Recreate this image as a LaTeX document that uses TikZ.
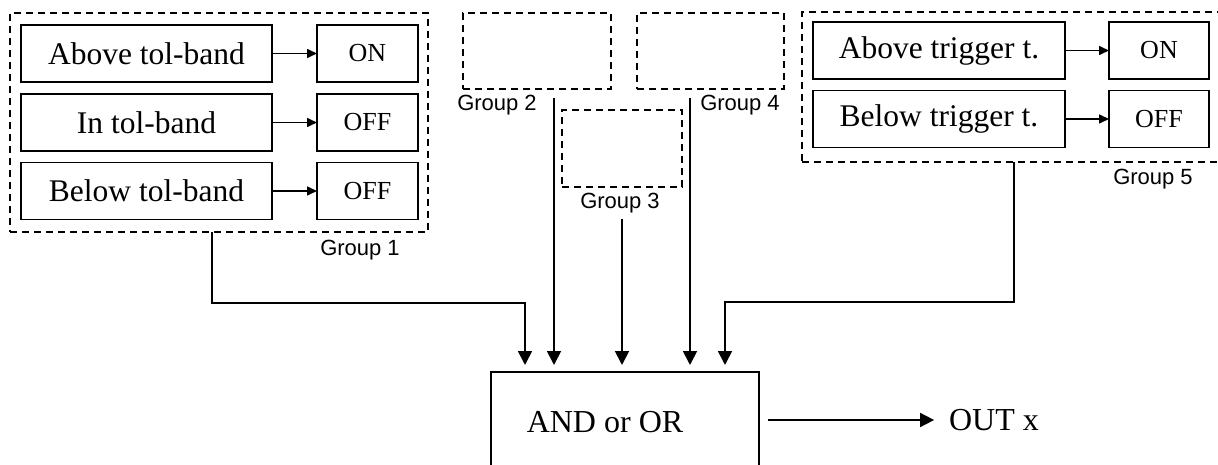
\documentclass[tikz,border=0pt]{standalone}
\usepackage{fontspec}
\setmainfont{Liberation Serif}
\newfontfamily\grpfont{Liberation Sans}
\usetikzlibrary{arrows.meta,calc}
\tikzset{
  every node/.append style={outer sep=0pt},
  cond/.style={draw, line width=1.8pt, minimum width=251pt, minimum height=57pt,
    inner sep=0pt, font=\fontsize{31.5}{31.5}\selectfont},
  state/.style={draw, line width=1.8pt, minimum width=101pt, minimum height=57pt,
    inner sep=0pt, font=\fontsize{26}{26}\selectfont},
  group/.style={draw, dash pattern=on 7pt off 5pt, line width=1.8pt, inner sep=0pt},
  grouplabel/.style={font=\grpfont\fontsize{22}{22}\selectfont, inner sep=0pt},
  bigtext/.style={font=\fontsize{32}{32}\selectfont, inner sep=0pt},
  smallarrow/.style={line width=1.6pt, -{Triangle[length=10pt,width=9pt]}},
  bigarrow/.style={line width=1.8pt, -{Triangle[length=14pt,width=14pt]}},
}
\begin{document}
\begin{tikzpicture}[x=1pt,y=-1pt]
\useasboundingbox (0,0) rectangle (1218,465);

% ---- Group 1: tolerance band ----
\node[group, minimum width=418pt, minimum height=219pt] (g1) at (219,122.5) {};
\node[cond]  (a1) at (146.5,53.5)  {Above tol-band};
\node[cond]  (a2) at (146.5,122.5) {In tol-band};
\node[cond]  (a3) at (146.5,191)   {Below tol-band};
\node[state] (s1) at (367.5,53.5)  {ON};
\node[state] (s2) at (367.5,122.5) {OFF};
\node[state] (s3) at (367.5,191)   {OFF};
\draw[smallarrow] (a1.east) -- (s1.west);
\draw[smallarrow] (a2.east) -- (s2.west);
\draw[smallarrow] (a3.east) -- (s3.west);
\node[grouplabel] (l1) at (360,250) {Group 1};

% ---- Groups 2, 3, 4 (empty) ----
\node[group, minimum width=148pt, minimum height=76pt] (g2) at (537,51) {};
\node[grouplabel] (l2) at (497,105) {Group 2};
\node[group, minimum width=120pt, minimum height=77pt] (g3) at (622,148.5) {};
\node[grouplabel] (l3) at (620,203) {Group 3};
\node[group, minimum width=147pt, minimum height=76pt] (g4) at (710.5,51) {};
\node[grouplabel] (l4) at (740,105) {Group 4};

% ---- Group 5: trigger threshold ----
\node[group, minimum width=424pt, minimum height=150pt] (g5) at (1014,87) {};
\node[cond, minimum width=252pt] (b1) at (939,50.5)  {Above trigger t.};
\node[cond, minimum width=252pt] (b2) at (939,119)   {Below trigger t.};
\node[state, minimum width=100pt] (t1) at (1159,50.5) {ON};
\node[state, minimum width=100pt] (t2) at (1159,119)  {OFF};
\draw[smallarrow] (b1.east) -- (t1.west);
\draw[smallarrow] (b2.east) -- (t2.west);
\node[grouplabel] (l5) at (1153,179) {Group 5};

% ---- Logic block and output ----
\node[draw, line width=1.8pt, minimum width=268pt, minimum height=100pt] (logic) at (625,422) {};
\node[bigtext] (logictxt) at (605,422) {AND or OR};
\node[bigtext, inner xsep=15pt] (out) at (994,420) {OUT x};

% input points on top of the logic block
\coordinate (i1) at ($(logic.north west)+(34,-7)$);
\coordinate (i2) at ($(logic.north west)+(63,-7)$);
\coordinate (i3) at ($(logic.north west)+(131,-7)$);
\coordinate (i4) at ($(logic.north west)+(199,-7)$);
\coordinate (i5) at ($(logic.north west)+(234,-7)$);

\coordinate (g2out) at ($(g2.south)+(17,9)$);
\coordinate (g3out) at ($(g3.south)+(0,32)$);
\coordinate (g4out) at ($(g4.south)+(-20.5,9)$);

\draw[bigarrow] ([xshift=-7pt]g1.south) |- ($(i1)+(0,-62)$) -- (i1);
\draw[bigarrow] (g2out) -- (i2);
\draw[bigarrow] (g3out) -- (i3);
\draw[bigarrow] (g4out) -- (i4);
\draw[bigarrow] (g5.south) |- ($(i5)+(0,-63)$) -- (i5);

\draw[bigarrow] ($(logic.east |- out)+(9,0)$) -- (out.west);
\end{tikzpicture}
\end{document}
